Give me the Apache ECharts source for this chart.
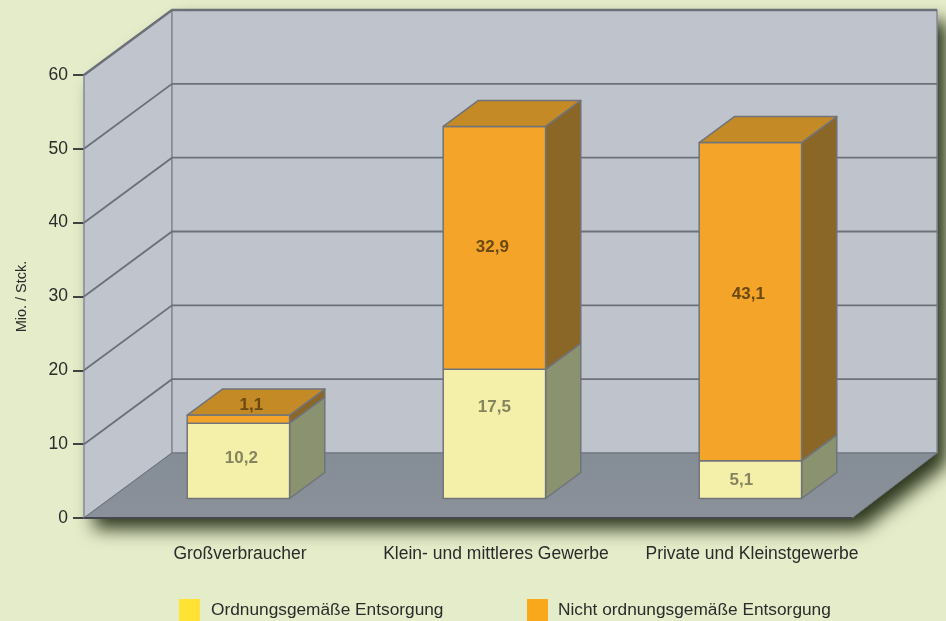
<!DOCTYPE html>
<html>
<head>
<meta charset="utf-8">
<style>
	html, body { margin: 0; padding: 0; background: #e5ecca; overflow: hidden; }
	#chart { width: 946px; height: 621px; }
</style>
<script src="https://cdn.jsdelivr.net/npm/echarts@6/dist/echarts.min.js"></script>
</head>
<body>
<div id="chart"></div>
<script>
'use strict';
var categories = ['Großverbraucher', 'Klein- und mittleres Gewerbe', 'Private und Kleinstgewerbe'],
		properValues = [10.2, 17.5, 5.1],
		improperValues = [1.1, 32.9, 43.1],
		yTicks = [0, 10, 20, 30, 40, 50, 60],
		properName = 'Ordnungsgemäße Entsorgung',
		improperName = 'Nicht ordnungsgemäße Entsorgung';

// how far the floor runs back, in pixels. The right side is a touch shorter in the original
var DEPTH_X = 88,
		DEPTH_X_RIGHT = 85,
		DEPTH_Y = -65,
		FONT = '"Liberation Sans", Arial, sans-serif';

// the labels in the original are placed by hand, not centred
var properLabelShift = [[3, -3], [0, -27], [-9, 1]],
		improperLabelShift = [[13, -14], [-2, -1], [-2, -7]];

function formatValue(v) {
	return v.toFixed(1).replace('.', ',');
}

function shift(p, f) {
	return [p[0] + DEPTH_X * f, p[1] + DEPTH_Y * f];
}

function poly(points, fill, stroke, width, extra) {
	var shape = {
		type: 'polygon',
		shape: {points: points},
		style: {fill: fill, stroke: stroke, lineWidth: width, lineJoin: 'round'}
	};
	if (extra) {
		for (var k in extra) {
			shape.style[k] = extra[k];
		}
	}
	return shape;
}

function renderRoom(params, api) {
	var rect = params.coordSys,
			left = rect.x,
			right = rect.x + rect.width,
			y0 = api.coord([0, yTicks[0]])[1],
			yTop = api.coord([0, yTicks[yTicks.length - 1]])[1],
			fl = [left, y0],
			fr = [right, y0],
			tl = [left, yTop],
			bl = shift(fl, 1),
			br = [right + DEPTH_X_RIGHT, y0 + DEPTH_Y],
			ttl = shift(tl, 1),
			ttr = [br[0], ttl[1]];

	return {
		type: 'group',
		children: [
			poly([tl, ttl, ttr, br, fr, fl], '#bfc3cb', 'none', 0, {
				shadowColor: 'rgba(44,54,28,1)',
				shadowBlur: 18,
				shadowOffsetX: 10,
				shadowOffsetY: 11
			}),
			poly([tl, ttl, bl, fl], '#bfc4cd', '#858a94', 1.5),
			poly([ttl, ttr, br, bl], '#bfc3cb', '#858a94', 1.5),
			poly([fl, bl, br, fr], {
				type: 'linear', x: 0, y: 0, x2: 0, y2: 1,
				colorStops: [{offset: 0, color: '#858d97'}, {offset: 1, color: '#8a919b'}]
			}, '#6d727a', 1),
			{
				type: 'line',
				shape: {x1: fl[0], y1: fl[1], x2: fr[0], y2: fr[1]},
				style: {stroke: '#45484c', lineWidth: 2}
			}
		]
	};
}

function renderGridLine(params, api) {
	var rect = params.coordSys,
			v = api.value(0),
			y = api.coord([0, v])[1],
			front = [rect.x, y],
			back = shift(front, 1),
			end = [rect.x + rect.width + DEPTH_X_RIGHT, back[1]];

	if (v === yTicks[0]) {
		return null;
	}
	return {
		type: 'polyline',
		shape: {points: [front, back, end]},
		style: {fill: 'none', stroke: '#6c7079', lineWidth: v === yTicks[yTicks.length - 1] ? 2.5 : 1.8}
	};
}

// one stacked block; the top face is only drawn by the upper series
function makeBarRenderer(faceColor, sideColor, topColor, textColor, labelShift) {
	return function (params, api) {
		var cat = api.value(0),
				base = api.value(1),
				top = api.value(2),
				w = api.size([1, 0])[0] * 0.4,
				xc = api.coord([cat, base])[0],
				yb = api.coord([cat, base])[1],
				yt = api.coord([cat, top])[1],
				a = shift([xc - w / 2, yb], 0.3),
				b = shift([xc + w / 2, yb], 0.3),
				c = shift([xc + w / 2, yt], 0.3),
				d = shift([xc - w / 2, yt], 0.3),
				bb = shift(b, 0.4),
				cb = shift(c, 0.4),
				db = shift(d, 0.4),
				edge = '#70747a',
				children = [
					poly([b, bb, cb, c], sideColor, edge, 1.5),
					poly([a, b, c, d], faceColor, edge, 1.5)
				],
				s = labelShift[cat];

		if (topColor) {
			children.push(poly([d, c, cb, db], topColor, edge, 1.5));
		}
		children.push({
			type: 'text',
			x: (a[0] + b[0]) / 2 + s[0],
			y: (a[1] + d[1]) / 2 + s[1],
			style: {
				text: formatValue(top - base),
				font: 'bold 17px ' + FONT,
				fill: textColor,
				align: 'center',
				verticalAlign: 'middle'
			}
		});
		return {type: 'group', children: children};
	};
}

var properData = categories.map(function (c, i) {
	return [i, 0, properValues[i]];
});
var improperData = categories.map(function (c, i) {
	return [i, properValues[i], properValues[i] + improperValues[i]];
});

var chart = echarts.init(document.getElementById('chart'), null, {renderer: 'canvas'});

chart.setOption({
	animation: false,
	backgroundColor: '#e5ecca',
	textStyle: {fontFamily: FONT},
	grid: {left: 84, right: 94, top: 75, bottom: 103, outerBoundsMode: 'none'},
	xAxis: {
		type: 'category',
		data: categories,
		axisLine: {show: false},
		axisTick: {show: false},
		axisLabel: {
			interval: 0,
			margin: 27,
			fontSize: 17.5,
			color: '#2b2b2b',
			fontFamily: FONT,
			padding: [0, 0, 0, 56]
		}
	},
	yAxis: {
		type: 'value',
		min: 0,
		max: 60,
		interval: 10,
		name: 'Mio. / Stck.',
		nameLocation: 'middle',
		nameRotate: 90,
		nameGap: 55,
		nameTextStyle: {fontSize: 14.5, color: '#2b2b2b', fontFamily: FONT},
		splitLine: {show: false},
		axisLine: {show: false},
		axisTick: {show: true, length: 11, lineStyle: {color: '#444', width: 2}},
		axisLabel: {margin: 16, fontSize: 17.5, color: '#2b2b2b', fontFamily: FONT}
	},
	legend: [
		{
			left: 179,
			top: 599,
			padding: 0,
			itemWidth: 21,
			itemHeight: 22,
			selectedMode: false,
			data: [{name: properName, icon: 'rect', itemStyle: {color: '#ffe234'}}],
			textStyle: {fontSize: 17.3, color: '#2b2b2b', fontFamily: FONT, padding: [0, 0, 0, 6]}
		},
		{
			left: 527,
			top: 599,
			padding: 0,
			itemWidth: 21,
			itemHeight: 22,
			selectedMode: false,
			data: [{name: improperName, icon: 'rect', itemStyle: {color: '#f9a81c'}}],
			textStyle: {fontSize: 17.3, color: '#2b2b2b', fontFamily: FONT, padding: [0, 0, 0, 5]}
		}
	],
	series: [
		{
			name: 'room',
			type: 'custom',
			silent: true,
			z: 1,
			data: [[0]],
			renderItem: renderRoom
		},
		{
			name: 'gridlines',
			type: 'custom',
			silent: true,
			z: 2,
			data: yTicks.map(function (t) { return [t]; }),
			renderItem: renderGridLine
		},
		{
			name: properName,
			type: 'custom',
			silent: true,
			z: 3,
			itemStyle: {color: '#ffe234'},
			data: properData,
			renderItem: makeBarRenderer('#f5f0a9', '#8a9270', null, '#85845e', properLabelShift)
		},
		{
			name: improperName,
			type: 'custom',
			silent: true,
			z: 4,
			itemStyle: {color: '#f9a81c'},
			data: improperData,
			renderItem: makeBarRenderer('#f4a429', '#8a6627', '#c38a26', '#6b4a12', improperLabelShift)
		}
	]
});
</script>
</body>
</html>
